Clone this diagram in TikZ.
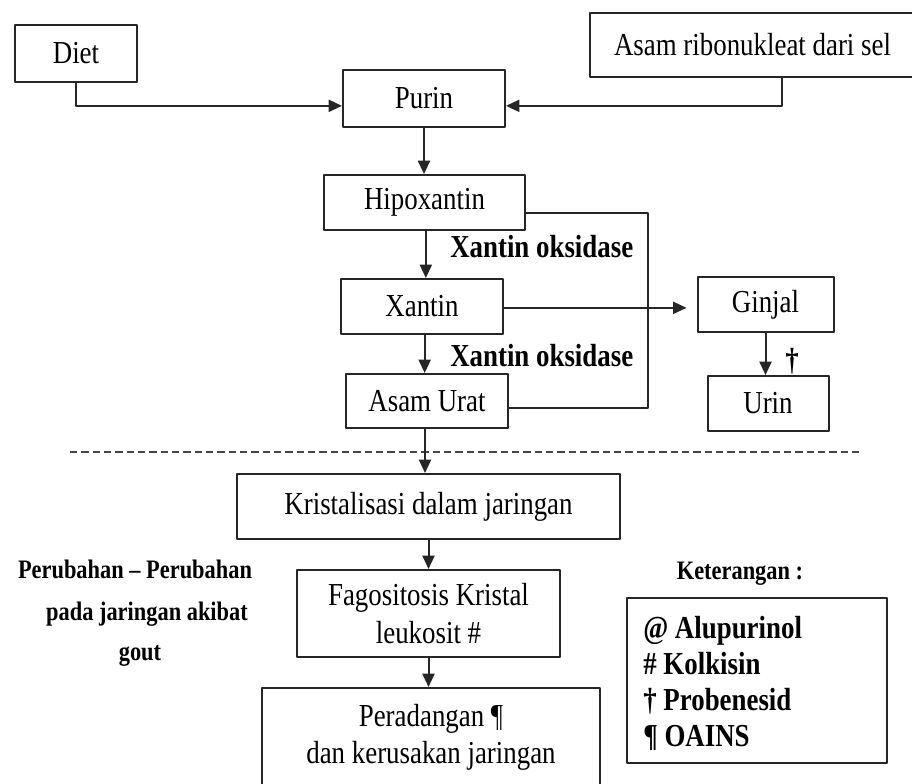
\documentclass[tikz,border=0pt]{standalone}
\usepackage{fontspec}
\setmainfont[FakeStretch=0.84]{Liberation Serif}
\usetikzlibrary{arrows.meta}
\definecolor{flowline}{HTML}{262626}

\begin{document}
\begin{tikzpicture}[
  x=0.75pt,
  y=-0.75pt,
  line join=round,
  box/.style 2 args={draw=flowline,line width=1.5pt,inner sep=0pt,
    minimum width=#1*0.75pt,minimum height=#2*0.75pt,
    align=center,font=\fontsize{24}{28}\selectfont},
  link/.style={draw=flowline,line width=1.5pt},
  flow/.style={link,-{Triangle[length=10pt,width=9pt]}},
  enzyme/.style={font=\bfseries\fontsize{24}{24}\selectfont,inner sep=0pt},
  note/.style={font=\bfseries\fontsize{20}{20}\selectfont,inner sep=0pt},
  divider/.style={draw=flowline!85,line width=1.4pt,dash pattern=on 5.5pt off 3pt}
]
  \useasboundingbox (0,0) rectangle (912,783);

  % Sources of purine
  \node[box={122}{57}] (diet) at (76,53.5) {Diet};
  \node[box={325}{64}] (ribo) at (752.5,45) {Asam ribonukleat dari sel};
  \node[box={162}{57}] (purin) at (424,98.5) {Purin};
  \coordinate (riboout) at (782,77);

  \draw[flow] (diet.south) |- ([yshift=-5.5pt]purin.west);
  \draw[flow] (riboout) |- ([yshift=-5.5pt]purin.east);

  % Breakdown chain
  \node[box={201}{55}] (hipo) at (424.5,202.5) {Hipoxantin};
  \node[box={162}{55}] (xantin) at (422,306.5) {Xantin};
  \node[box={162}{54}] (urat) at (427,401) {Asam Urat};
  \node[box={136}{55}] (ginjal) at (765.5,304.5) {Ginjal};
  \node[box={121}{55}] (urin) at (768,403.5) {Urin};

  \draw[flow] (purin.south) -- (purin.south |- hipo.north);
  \draw[flow] ([xshift=1pt]hipo.south) -- ([xshift=1pt]hipo.south |- xantin.north);
  \draw[flow] ([xshift=2pt]xantin.south) -- ([xshift=2pt]xantin.south |- urat.north);
  \draw[flow,shorten >=7.5pt] ([yshift=-1pt]xantin.east) -- ([yshift=-1pt]xantin.east -| ginjal.west);
  \draw[flow] (ginjal.south) -- (ginjal.south |- urin.north);
  \draw[link] ([yshift=-8pt]hipo.east) -- ++(122,0) |- ([yshift=-5.25pt]urat.east);

  \node[enzyme,anchor=base west] (xo1) at (450,257) {Xantin oksidase};
  \node[enzyme,anchor=base west] (xo2) at (450,366) {Xantin oksidase};
  \node[enzyme,anchor=base] (dagger) at (792,370) {†};

  % Tissue side of the dashed line
  \coordinate (dashL) at (70,452);
  \coordinate (dashR) at (860,452);
  \draw[divider] (dashL) -- (dashR);

  \node[box={383}{65}] (kristal) at (428.5,506.5) {Kristalisasi dalam jaringan};
  \node[box={263}{87}] (fago) at (428.5,613.5) {Fagositosis Kristal\\leukosit \#};
  \node[box={338}{98}] (radang) at (431,737) {Peradangan ¶\\dan kerusakan jaringan};

  \draw[flow] ([xshift=-1.5pt]urat.south) -- ([xshift=-1.5pt]urat.south |- kristal.north);
  \draw[flow] (kristal.south) -- (kristal.south |- fago.north);
  \draw[flow] (fago.south) -- (fago.south |- radang.north);

  \node[note,anchor=base] (ubah1) at (135,578) {Perubahan – Perubahan};
  \node[note,anchor=base] (ubah2) at (147,620) {pada jaringan akibat};
  \node[note,anchor=base] (ubah3) at (140,660) {gout};

  % Legend
  \node[note,anchor=base] (ket) at (740,579) {Keterangan :};
  \node[box={260}{165}] (legend) at (757,680.5) {};
  \foreach \key [count=\k] in {@ Alupurinol,\# Kolkisin,† Probenesid,¶ OAINS}
    \node[enzyme,anchor=base west] (key\k) at (643,{638+36.3*(\k-1)}) {\key};
\end{tikzpicture}
\end{document}
